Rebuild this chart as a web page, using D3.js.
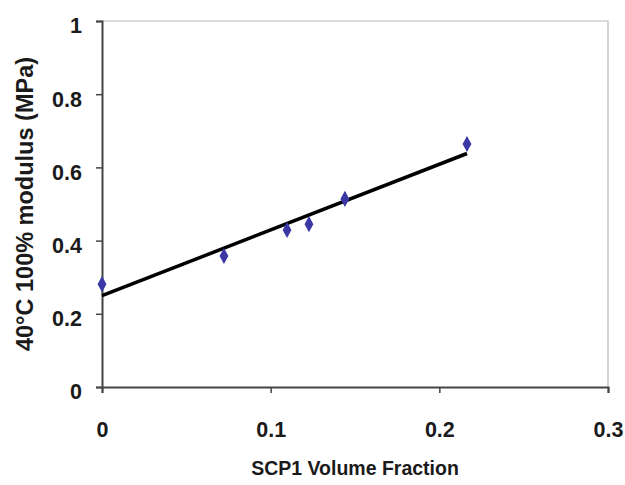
<!DOCTYPE html>
<html>
<head>
<meta charset="utf-8">
<script src="https://cdn.jsdelivr.net/npm/d3@7"></script>
<style>
  body { margin: 0; background: #fff; }
  text { font-family: "Liberation Sans", Arial, sans-serif; font-weight: bold; fill: #1a1a1a; }
</style>
</head>
<body>
<svg id="chart" width="625" height="485"></svg>
<script>
// values
var volFraction = [0, 0.0723, 0.1097, 0.1227, 0.144, 0.2164]
var modulus = [0.281, 0.358, 0.429, 0.445, 0.514, 0.664]
var xTicks = [0, 0.1, 0.2, 0.3]
var yTicks = [0, 0.2, 0.4, 0.6, 0.8, 1]

var margin = { top: 21, right: 17, bottom: 98, left: 102 }
var width = 625 - margin.left - margin.right
var height = 485 - margin.top - margin.bottom

var svg = d3.select('#chart')
var g = svg.append('g')
    .attr('transform', 'translate(' + margin.left + ',' + margin.top + ')')

var x = d3.scaleLinear().domain([0, 0.3]).range([0, width])
var y = d3.scaleLinear().domain([0, 1]).range([height, 0])

// light frame top and right
g.append('path')
    .attr('d', 'M0,0H' + width + 'V' + height)
    .attr('fill', 'none')
    .attr('stroke', '#b8b8b8')
    .attr('stroke-width', 1.2)

var xAxis = g.append('g')
    .attr('transform', 'translate(0,' + height + ')')
    .call(d3.axisBottom(x).tickValues(xTicks).tickSize(6).tickPadding(29)
        .tickFormat(d => d === 0 ? '0' : d3.format('.1f')(d)))
var yAxis = g.append('g')
    .call(d3.axisLeft(y).tickValues(yTicks).tickSize(6).tickPadding(14)
        .tickFormat(d => (d === 0 || d === 1) ? String(d) : d3.format('.1f')(d)))

yAxis.selectAll('.tick text').attr('dy', '0.55em')

svg.selectAll('.domain').attr('stroke', '#444').attr('stroke-width', 2)
svg.selectAll('.tick line').attr('stroke', '#444').attr('stroke-width', 1.5)
svg.selectAll('.tick text').style('font-size', '21.5px').attr('fill', '#1a1a1a')

// least squares trendline over the data range
var mx = d3.mean(volFraction), my = d3.mean(modulus)
var sxy = d3.sum(volFraction, (v, i) => (v - mx) * (modulus[i] - my))
var sxx = d3.sum(volFraction, v => (v - mx) * (v - mx))
var slope = sxy / sxx
var icpt = my - slope * mx
var xs = d3.extent(volFraction)

g.append('line')
    .attr('x1', x(xs[0])).attr('y1', y(icpt + slope * xs[0]))
    .attr('x2', x(xs[1])).attr('y2', y(icpt + slope * xs[1]))
    .attr('stroke', '#000')
    .attr('stroke-width', 3.5)

g.selectAll('.pt')
    .data(volFraction)
    .enter()
    .append('path')
    .attr('class', 'pt')
    .attr('d', d3.symbol().type(d3.symbolDiamond).size(75))
    .attr('transform', (d, i) => 'translate(' + x(d) + ',' + y(modulus[i]) + ') scale(0.95,1)')
    .attr('fill', '#3b38a6')

svg.append('text')
    .attr('x', margin.left + width / 2)
    .attr('y', 475)
    .attr('text-anchor', 'middle')
    .style('font-size', '19.5px')
    .text('SCP1 Volume Fraction')

svg.append('text')
    .attr('transform', 'translate(33,204) rotate(-90)')
    .attr('text-anchor', 'middle')
    .style('font-size', '23.5px')
    .text('40°C 100% modulus (MPa)')
</script>
</body>
</html>
